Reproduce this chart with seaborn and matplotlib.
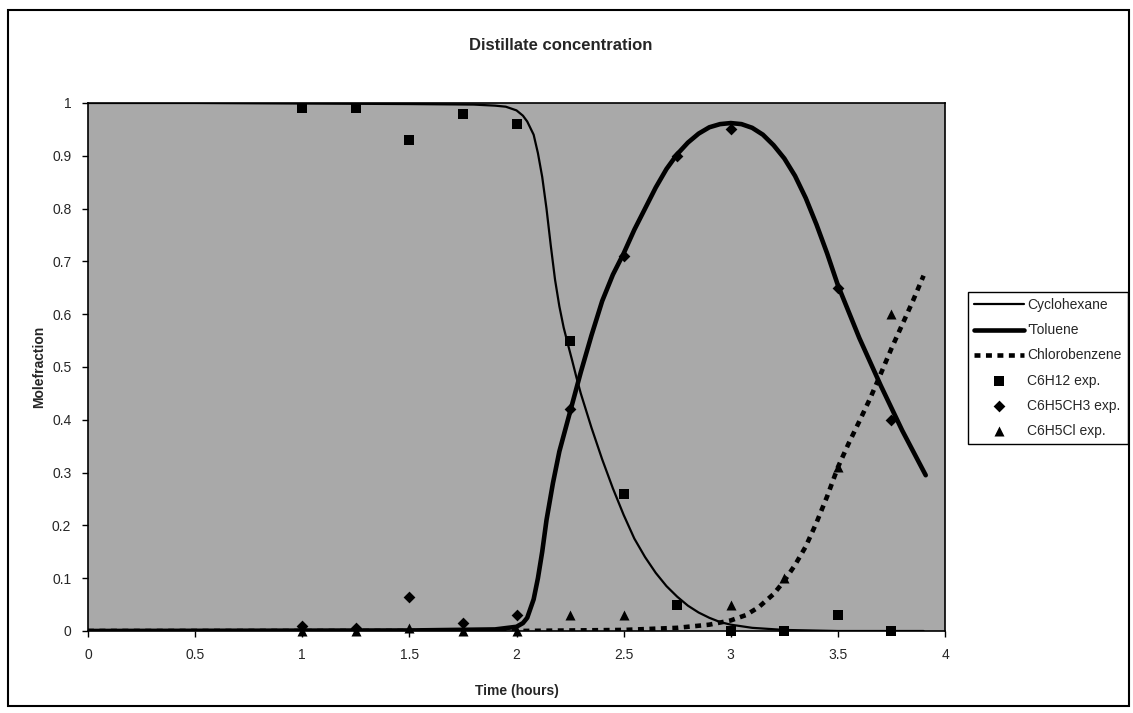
import matplotlib
matplotlib.use("Agg")
import matplotlib.pyplot as plt
import seaborn as sns
from matplotlib.patches import Rectangle

sns.set_theme(style="white")
plt.rcParams['font.family'] = ['Liberation Sans', 'DejaVu Sans']

# Model curves: time (h) and distillate mole fraction
cyc_t = [0, 0.5, 1.0, 1.5, 1.8, 1.9, 1.95, 2.0, 2.03, 2.05, 2.08, 2.1, 2.12, 2.14,
         2.16, 2.18, 2.2, 2.22, 2.24, 2.26, 2.28, 2.3, 2.35, 2.4, 2.45, 2.5, 2.55,
         2.6, 2.65, 2.7, 2.75, 2.8, 2.85, 2.9, 2.95, 3.0, 3.1, 3.25, 3.5, 3.9]
cyc_x = [1.0, 1.0, 0.999, 0.998, 0.997, 0.995, 0.993, 0.986, 0.976, 0.965, 0.94,
         0.905, 0.86, 0.80, 0.73, 0.665, 0.615, 0.575, 0.543, 0.512, 0.48, 0.45,
         0.385, 0.325, 0.27, 0.22, 0.175, 0.14, 0.11, 0.085, 0.065, 0.048, 0.035,
         0.025, 0.017, 0.012, 0.006, 0.002, 0.0, 0.0]

tol_t = [0, 1.5, 1.9, 2.0, 2.03, 2.05, 2.08, 2.1, 2.12, 2.14, 2.17, 2.2, 2.25,
         2.3, 2.35, 2.4, 2.45, 2.5, 2.55, 2.6, 2.65, 2.7, 2.75, 2.8, 2.85, 2.9,
         2.95, 3.0, 3.05, 3.1, 3.15, 3.2, 3.25, 3.3, 3.35, 3.4, 3.45, 3.5, 3.6,
         3.7, 3.8, 3.91]
tol_x = [0.0, 0.001, 0.003, 0.008, 0.015, 0.025, 0.06, 0.10, 0.15, 0.21, 0.28,
         0.34, 0.415, 0.49, 0.56, 0.625, 0.675, 0.715, 0.76, 0.80, 0.84, 0.875,
         0.903, 0.925, 0.942, 0.954, 0.960, 0.962, 0.960, 0.953, 0.94, 0.92,
         0.895, 0.862, 0.82, 0.77, 0.715, 0.655, 0.555, 0.465, 0.38, 0.295]

chl_t = [0, 2.0, 2.5, 2.75, 2.9, 3.0, 3.07, 3.13, 3.2, 3.25, 3.3, 3.35, 3.4,
         3.45, 3.5, 3.55, 3.6, 3.65, 3.7, 3.75, 3.8, 3.85, 3.9]
chl_x = [0.0, 0.0, 0.002, 0.006, 0.012, 0.02, 0.03, 0.045, 0.07, 0.095, 0.125,
         0.16, 0.205, 0.255, 0.31, 0.355, 0.397, 0.44, 0.487, 0.535, 0.58, 0.625,
         0.673]

# Experimental samples
c6h12_t = [1, 1.25, 1.5, 1.75, 2, 2.25, 2.5, 2.75, 3, 3.25, 3.5, 3.75]
c6h12_x = [0.99, 0.99, 0.93, 0.98, 0.96, 0.55, 0.26, 0.05, 0.0, 0.0, 0.03, 0.0]

tol_exp_t = [1, 1.25, 1.5, 1.75, 2, 2.25, 2.5, 2.75, 3, 3.5, 3.75]
tol_exp_x = [0.01, 0.005, 0.065, 0.015, 0.03, 0.42, 0.71, 0.90, 0.95, 0.65, 0.40]

chl_exp_t = [1, 1.25, 1.5, 1.75, 2, 2.25, 2.5, 3, 3.25, 3.5, 3.75]
chl_exp_x = [0.0, 0.0, 0.005, 0.0, 0.0, 0.03, 0.03, 0.05, 0.10, 0.31, 0.60]

x_ticks = [0, 0.5, 1, 1.5, 2, 2.5, 3, 3.5, 4]
x_labels = ["0", "0.5", "1", "1.5", "2", "2.5", "3", "3.5", "4"]
y_ticks = [0, 0.1, 0.2, 0.3, 0.4, 0.5, 0.6, 0.7, 0.8, 0.9, 1]
y_labels = ["0", "0.1", "0.2", "0.3", "0.4", "0.5", "0.6", "0.7", "0.8", "0.9", "1"]

W, H = 1133, 713
fig = plt.figure(figsize=(W / 100, H / 100), dpi=100)
fig.patch.set_facecolor("white")
ax = fig.add_axes([88 / W, 1 - 631 / H, (945 - 88) / W, (631 - 103) / H])
ax.set_facecolor("#a9a9a9")

sns.lineplot(x=cyc_t, y=cyc_x, ax=ax, color="black", lw=1.6, sort=False,
             estimator=None, label="Cyclohexane")
sns.lineplot(x=tol_t, y=tol_x, ax=ax, color="black", lw=3.3, sort=False,
             estimator=None, label="'Toluene")
sns.lineplot(x=chl_t, y=chl_x, ax=ax, color="black", lw=3.3, sort=False,
             estimator=None, label="Chlorobenzene")
ax.lines[-1].set_linestyle((0, (1.3, 1.2)))
ax.lines[-1].set_dash_capstyle("butt")
for ln in ax.lines:
    ln.set_solid_joinstyle("round")

sns.scatterplot(x=c6h12_t, y=c6h12_x, ax=ax, marker="s", s=42, color="black",
                edgecolor="black", linewidth=0, label="C6H12 exp.")
sns.scatterplot(x=tol_exp_t, y=tol_exp_x, ax=ax, marker="D", s=36, color="black",
                edgecolor="black", linewidth=0, label="C6H5CH3 exp.")
sns.scatterplot(x=chl_exp_t, y=chl_exp_x, ax=ax, marker="^", s=52, color="black",
                edgecolor="black", linewidth=0, label="C6H5Cl exp.")
for coll in ax.collections:
    coll.set_clip_on(False)

ax.set_xlim(0, 4)
ax.set_ylim(0, 1)
ax.set_xticks(x_ticks)
ax.set_xticklabels(x_labels, fontsize=10)
ax.set_yticks(y_ticks)
ax.set_yticklabels(y_labels, fontsize=10)
ax.tick_params(axis="both", direction="out", length=4, width=1, color="black",
               bottom=True, left=True, pad=8)
for sp in ax.spines.values():
    sp.set_color("black")
    sp.set_linewidth(1.2)

ax.set_xlabel("Time (hours)", fontsize=10, fontweight="bold", labelpad=16)
ax.set_ylabel("Molefraction", fontsize=10, fontweight="bold", labelpad=4)
fig.text(561 / W, 1 - 45 / H, "Distillate concentration", ha="center", va="center",
         fontsize=12, fontweight="bold")

leg = ax.legend(loc="upper left", bbox_to_anchor=(968 / W, 1 - 292 / H),
                bbox_transform=fig.transFigure, frameon=True, fancybox=False,
                edgecolor="black", framealpha=1, facecolor="white", fontsize=10,
                handlelength=3.6, handletextpad=0.2, borderpad=0.45,
                labelspacing=0.8, borderaxespad=0)
leg.get_frame().set_linewidth(1.0)

# Chart-area frame
fig.patches.append(Rectangle((8 / W, 1 - 706 / H), (1129 - 8) / W, (706 - 10) / H,
                             transform=fig.transFigure, fill=False,
                             edgecolor="black", linewidth=1.5))

fig.savefig("out.png", dpi=100)
